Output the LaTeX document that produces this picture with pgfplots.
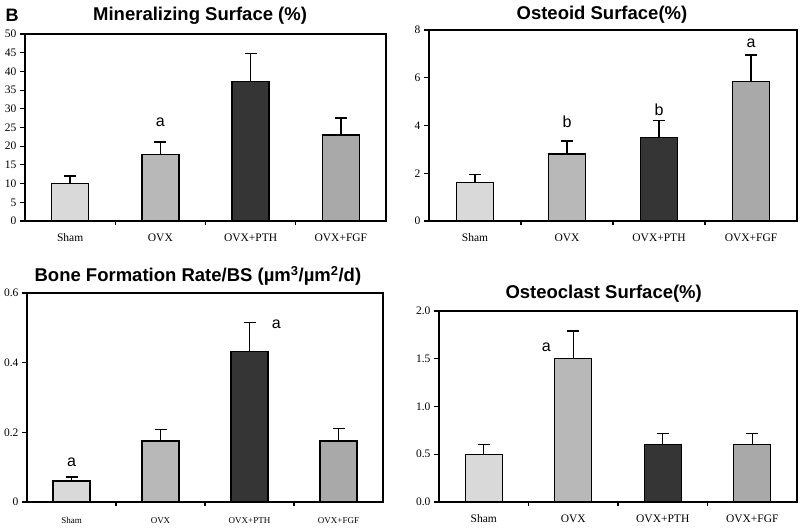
\documentclass[border=0pt]{standalone}
\usepackage{pgfplots}
\pgfplotsset{compat=1.18}
\usepackage{fontspec}
\setmainfont{Liberation Serif}
\newfontfamily\sans{Liberation Sans}
\definecolor{cSham}{HTML}{D9D9D9}
\definecolor{cOVX}{HTML}{B8B8B8}
\definecolor{cPTH}{HTML}{353535}
\definecolor{cFGF}{HTML}{A9A9A9}
\tikzset{lett/.style={font=\sans\fontsize{16}{18}\selectfont, anchor=center}}
\pgfplotsset{
  panel/.style={
    scale only axis, anchor=south west,
    xmin=-0.5, xmax=3.5, ymin=0,
    axis line style={line width=1.3pt},
    tick style={line width=1.1pt, black},
    tick align=outside, tick pos=left,
    xtick={0,1,2,3},
    xticklabels={Sham,OVX,OVX+PTH,OVX+FGF},
    major x tick style={draw=none},
    minor xtick={0.5,1.5,2.5},
    minor tick length=4pt, major tick length=5pt,
    ticklabel style={font=\fontsize{11.5}{13}\selectfont},
    /pgf/number format/assume math mode=true,
    x tick label style={yshift=-4pt},
    ybar, bar width=37pt,
    every axis plot/.append style={draw=black, line width=1.3pt, bar shift=0pt,
      error bars/y dir=plus, error bars/y explicit,
      error bars/error bar style={line width=1.3pt, black},
      error bars/error mark options={rotate=90, mark size=6pt, line width=1.3pt, black}},
    title style={font=\sans\bfseries\fontsize{18.5}{21}\selectfont, anchor=center},
  },
}
\begin{document}
\begin{tikzpicture}
\path (0pt,0pt) rectangle (800pt,524pt);
\node[font=\sans\bfseries\fontsize{18}{20}\selectfont] at (12pt,509pt) {B};
% Top-left
\begin{axis}[panel, at={(25pt,303pt)}, width=361pt, height=187pt,
  ymax=50, ytick={0,5,...,50},
  title={Mineralizing Surface (\%)}, title style={at={(0.485,1)}, yshift=12pt}]
\addplot[fill=cSham] coordinates {(0,10) +- (0,2)};
\addplot[fill=cOVX] coordinates {(1,17.7) +- (0,3.4)};
\addplot[fill=cPTH] coordinates {(2,37.3) +- (0,7.4)};
\addplot[fill=cFGF] coordinates {(3,23) +- (0,4.5)};
\node[lett] at (axis cs:1,26.5) {a};
\end{axis}
% Top-right
\begin{axis}[panel, at={(429pt,303pt)}, width=368pt, height=191pt,
  ymax=8, ytick={0,2,4,6,8},
  title={Osteoid Surface(\%)}, title style={at={(0.47,1)}, yshift=9pt}]
\addplot[fill=cSham] coordinates {(0,1.6) +- (0,0.35)};
\addplot[fill=cOVX] coordinates {(1,2.8) +- (0,0.55)};
\addplot[fill=cPTH] coordinates {(2,3.5) +- (0,0.7)};
\addplot[fill=cFGF] coordinates {(3,5.85) +- (0,1.1)};
\node[lett] at (axis cs:1,4.15) {b};
\node[lett] at (axis cs:2,4.65) {b};
\node[lett] at (axis cs:3,7.45) {a};
\end{axis}
% Bottom-left
\begin{axis}[panel, at={(27pt,22pt)}, width=356pt, height=209pt,
  ymax=0.6, ytick={0,0.2,0.4,0.6},
  yticklabels={0,0.2,0.4,0.6},
  x tick label style={font=\fontsize{9}{10}\selectfont, yshift=-3pt},
  title={Bone Formation Rate/BS (µm\textsuperscript{3}/µm\textsuperscript{2}/d)},
  title style={at={(0.48,1)}, yshift=11pt}]
\addplot[fill=cSham] coordinates {(0,0.06) +- (0,0.012)};
\addplot[fill=cOVX] coordinates {(1,0.175) +- (0,0.033)};
\addplot[fill=cPTH] coordinates {(2,0.432) +- (0,0.083)};
\addplot[fill=cFGF] coordinates {(3,0.175) +- (0,0.037)};
\node[lett] at (axis cs:0,0.115) {a};
\node[lett] at (axis cs:2.3,0.511) {a};
\end{axis}
% Bottom-right
\begin{axis}[panel, at={(439pt,22pt)}, width=358pt, height=191pt,
  ymax=2, ytick={0,0.5,...,2},
  yticklabel style={/pgf/number format/.cd, fixed, fixed zerofill, precision=1},
  title={Osteoclast Surface(\%)}, title style={at={(0.46,1)}, yshift=11pt}]
\addplot[fill=cSham] coordinates {(0,0.5) +- (0,0.1)};
\addplot[fill=cOVX] coordinates {(1,1.5) +- (0,0.29)};
\addplot[fill=cPTH] coordinates {(2,0.6) +- (0,0.12)};
\addplot[fill=cFGF] coordinates {(3,0.6) +- (0,0.12)};
\node[lett] at (axis cs:0.7,1.62) {a};
\end{axis}
\end{tikzpicture}
\end{document}
